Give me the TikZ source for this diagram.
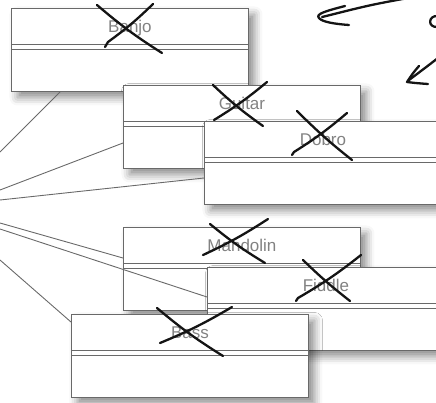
\documentclass[tikz,border=0pt]{standalone}
\usepackage{fontspec}
\setsansfont{Liberation Sans}
\usepackage{tikz}
\usetikzlibrary{calc,shadows.blur}
\definecolor{boxgray}{RGB}{105,105,105}
\definecolor{namegray}{RGB}{130,130,130}
\definecolor{ink}{RGB}{20,20,20}

\begin{document}
\begin{tikzpicture}[
        x=1pt,y=-1pt,
        klass/.style={draw=boxgray,line width=0.9pt,fill=white,
                      anchor=north west,inner sep=0pt,
                      minimum width=237pt,minimum height=83pt,
                      text height=24pt,text depth=59pt,
                      font=\sffamily\fontsize{17}{17}\selectfont,text=namegray,
                      blur shadow={shadow xshift=6pt,shadow yshift=-6pt,
                                   shadow blur radius=8pt,shadow opacity=45},
                      path picture={
                        \draw[boxgray,line width=0.9pt]
                          ([yshift=-36pt]path picture bounding box.north west)
                          -- ([yshift=-36pt]path picture bounding box.north east)
                          ([yshift=-41pt]path picture bounding box.north west)
                          -- ([yshift=-41pt]path picture bounding box.north east);}},
        link/.style={boxgray,line width=0.9pt},
        scrawl/.style={ink,line width=2.3pt,line cap=round,line join=round},
      ]
        \useasboundingbox (0,0) rectangle (436,402);
        \clip (0,0) rectangle (436,402);
        % classes
        \node[klass](banjo) at (11,8) {Banjo};
        \node[klass](guitar) at (123,85) {Guitar};
        \node[klass](dobro) at (204,121) {Dobro};
        \node[klass](mandolin) at (123,227) {Mandolin};
        \node[klass](fiddle) at (207,267) {Fiddle};
        \node[klass](bass) at (71,314) {Bass};
        % lines coming in from the left
        \coordinate (banjoIn) at (0,152);
        \coordinate (guitarIn) at (0,190);
        \coordinate (dobroIn) at (0,200);
        \coordinate (mandolinIn) at (0,223);
        \coordinate (fiddleIn) at (0,229);
        \coordinate (bassIn) at (0,260);
        \draw[link](banjoIn)--($(banjo.south west)+(49,0)$);
        \draw[link](guitarIn)--($(guitar.north west)+(0,58)$);
        \draw[link](dobroIn)--($(dobro.north west)+(0,57)$);
        \draw[link](mandolinIn)--($(mandolin.north west)+(0,31)$);
        \draw[link](fiddleIn)--($(fiddle.north west)+(0,30)$);
        \draw[link](bassIn)--($(bass.north west)+(0,8)$);
        % crossed out
        \draw[scrawl](97,5) to[bend right=4] (162,53);
        \draw[scrawl](153,4) to[bend left=4] (108,42) -- (105,47);
        \draw[scrawl](213,85) to[bend right=4] (263,126);
        \draw[scrawl](267,82) to[bend left=4] (214,120);
        \draw[scrawl](297,111) -- (301,115) to[bend right=3] (352,160);
        \draw[scrawl](347,113) to[bend left=4] (294,152) -- (292,155);
        \draw[scrawl](210,224) to[bend right=4] (265,263);
        \draw[scrawl](268,219) to[bend left=4] (203,255);
        \draw[scrawl](303,260) to[bend right=3] (350,301);
        \draw[scrawl](361,255) to[bend left=4] (298,298) -- (296,301);
        \draw[scrawl](157,308) to[bend right=4] (223,356);
        \draw[scrawl](232,307) to[bend left=4] (160,343);
        % notes at the top right
        \draw[scrawl](408,-2) .. controls (370,5) .. (322,17);
        \draw[scrawl](345,6) .. controls (326,11) and (315,14) .. (319,18)
                     .. controls (322,22) and (335,24) .. (349,25);
        \draw[scrawl](438,16) .. controls (428,15) and (427,28) .. (438,27);
        \draw[scrawl](438,58) .. controls (425,68) .. (409,80);
        \draw[scrawl](419,66) .. controls (413,73) .. (407,82)
                     .. controls (415,83) .. (428,84);
      \end{tikzpicture}
\end{document}
